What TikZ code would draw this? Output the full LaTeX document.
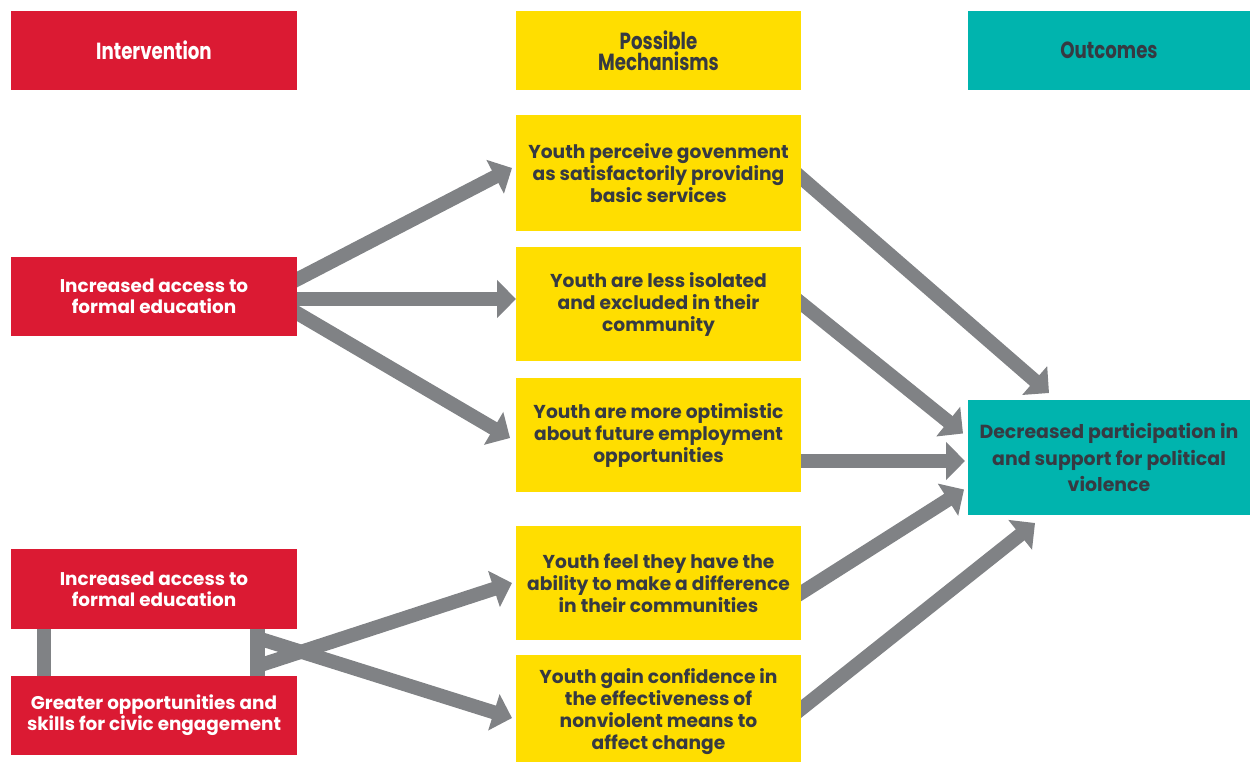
\documentclass[tikz,border=0pt]{standalone}
\usepackage{fontspec}
\setmainfont{Poppins}
\newfontfamily\headfont{Poppins}[FakeStretch=0.78]
\usetikzlibrary{arrows.meta,positioning,backgrounds}

\definecolor{tocred}{HTML}{DB1A33}
\definecolor{tocyellow}{HTML}{FFDE00}
\definecolor{tocteal}{HTML}{00B4AE}
\definecolor{tocgray}{HTML}{808285}
\definecolor{tocink}{HTML}{363A42}

\begin{document}
\begin{tikzpicture}[x=0.75pt, y=-0.75pt, >={Triangle[length=14.25pt, width=27.75pt]},
                    every node/.style={inner sep=0pt, outer sep=0pt, align=center}]
  \tikzstyle{intv}=[fill=tocred, text=white, minimum width=214.5pt, minimum height=59.25pt,
                    font=\bfseries\fontsize{13.8}{15.9}\selectfont]
  \tikzstyle{mech}=[fill=tocyellow, text=tocink, minimum width=213.75pt, minimum height=85.5pt,
                    font=\bfseries\fontsize{14}{16.5}\selectfont]
  \tikzstyle{outc}=[fill=tocteal, text=tocink, minimum width=211.5pt, minimum height=86.25pt,
                    font=\bfseries\fontsize{14.2}{19.9}\selectfont]
  \tikzstyle{head}=[minimum height=59.25pt, font=\headfont\bfseries\fontsize{17.5}{16}\selectfont]
  \tikzstyle{flow}=[->, draw=tocgray, line width=10.5pt, shorten <=-6pt]
  \tikzstyle{link}=[draw=tocgray, line width=11pt]

  \useasboundingbox (0,0) rectangle (1251,761);

  % column headers
  \node[intv, head]  (hInt)  at (154,50.5)          {Intervention};
  \node[mech, head]  (hMech) [right=164.25pt of hInt] {Possible\\Mechanisms};
  \node[outc, head]  (hOut)  [right=125.25pt of hMech, minimum width=211.5pt] {Outcomes};

  % interventions
  \node[intv] (edu)   at (154,296.5)            {Increased access to\\formal education};
  \node[intv] (edu2)  at (154,589)  [minimum height=60pt] {Increased access to\\formal education};
  \node[intv] (civic) [below=35.25pt of edu2]   {Greater opportunities and\\skills for civic engagement};

  % mechanisms
  \node[mech] (gov)   [below=18.75pt of hMech, minimum height=87pt]
                      {Youth perceive govenment\\as satisfactorily providing\\basic services};
  \node[mech] (isol)  [below=12pt of gov]     {Youth are less isolated\\and excluded in their\\community};
  \node[mech] (optim) [below=12.75pt of isol] {Youth are more optimistic\\about future employment\\opportunities};
  \node[mech] (able)  [below=25.5pt of optim] {Youth feel they have the\\ability to make a difference\\in their communities};
  \node[mech] (conf)  [below=11.25pt of able] {Youth gain confidence in\\the effectiveness of\\nonviolent means to\\affect change};

  % outcome
  \node[outc] (viol)  at (1109,457.5) {Decreased participation in\\and support for political\\violence};

  \begin{pgfonlayer}{background}
    \path[link] ([shift={(-110,0)}]edu2.south) edge ([shift={(-110,0)}]civic.north)
                ([shift={(103.5,0)}]edu2.south) edge ([shift={(103.5,0)}]civic.north);
    \coordinate (jUp)   at ([shift={(103.5,37)}]edu2.south);
    \coordinate (jDown) at ([shift={(103.5,9)}]edu2.south);

    \path
      ([shift={(0,-17)}]edu.east)   edge [flow] ([shift={(-4,-5)}]gov.west)
      ([shift={(0,2.5)}]edu.east)   edge [flow] ([shift={(0,-5)}]isol.west)
      ([shift={(0,16.5)}]edu.east)  edge [flow] ([shift={(-6,3)}]optim.west)
      (jUp)                         edge [flow, shorten <=0pt] ([shift={(-4,0)}]able.west)
      (jDown)                       edge [flow, shorten <=0pt] ([shift={(-4,6)}]conf.west)
      ([shift={(0,4.5)}]gov.east)   edge [flow] ([shift={(-60,-7)}]viol.north)
      ([shift={(0,-1)}]isol.east)   edge [flow] ([shift={(-5,-24)}]viol.west)
      ([shift={(0,26)}]optim.east)  edge [flow] ([shift={(-3,3.5)}]viol.west)
      ([shift={(0,10)}]able.east)   edge [flow] ([shift={(-4,32)}]viol.west)
      ([shift={(0,-3)}]conf.east)   edge [flow] ([shift={(-74,8)}]viol.south);
  \end{pgfonlayer}
\end{tikzpicture}
\end{document}
